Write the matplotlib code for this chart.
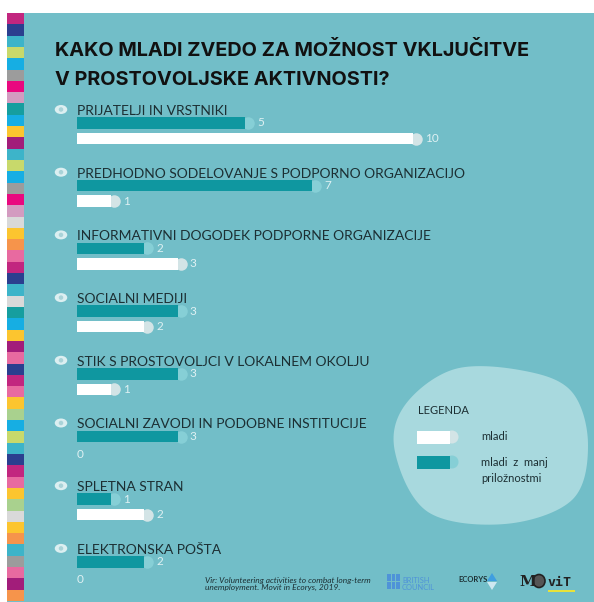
import numpy as np
import matplotlib.pyplot as plt
from matplotlib.patches import Rectangle, Ellipse, Polygon

# data
categories = ["PRIJATELJI IN VRSTNIKI",
              "PREDHODNO SODELOVANJE S PODPORNO ORGANIZACIJO",
              "INFORMATIVNI DOGODEK PODPORNE ORGANIZACIJE",
              "SOCIALNI MEDIJI",
              "STIK S PROSTOVOLJCI V LOKALNEM OKOLJU",
              "SOCIALNI ZAVODI IN PODOBNE INSTITUCIJE",
              "SPLETNA STRAN",
              "ELEKTRONSKA POŠTA"]
manj = [5, 7, 2, 3, 3, 3, 1, 2]       # mladi z manj priložnostmi
mladi = [10, 1, 3, 2, 1, 0, 2, 0]     # mladi

title1 = "KAKO MLADI ZVEDO ZA MOŽNOST VKLJUČITVE"
title2 = "V PROSTOVOLJSKE AKTIVNOSTI?"
source = "Vir: Volunteering activities to combat long-term\nunemployment. Movit in Ecorys, 2019."

strip_colors = ["#c2267f", "#2b3f8f", "#3db4c9", "#c8d96b", "#16aee3", "#9c9c9c", "#e9087f", "#d39bc0",
                "#169e9f", "#16aee3", "#fcc52f", "#a21d7a", "#3db4c9", "#c8d96b", "#16aee3", "#9c9c9c",
                "#e9087f", "#d39bc0", "#d9d9d9", "#fcc52f", "#f6944b", "#e86aa0", "#c2267f", "#2b3f8f",
                "#3db4c9", "#d9d9d9", "#169e9f", "#16aee3", "#fcc52f", "#a21d7a", "#e86aa0", "#2b3f8f",
                "#c2267f", "#e86aa0", "#fcc52f", "#a9d18e", "#16aee3", "#c8d96b", "#3db4c9", "#2b3f8f",
                "#c2267f", "#e86aa0", "#fcc52f", "#a9d18e", "#d9d9d9", "#fcc52f", "#f6944b", "#3db4c9",
                "#9c9c9c", "#e86aa0", "#a21d7a", "#f6944b"]

BG = "#72bec8"
TEAL = "#0f97a0"
TEAL_CAP = "#86cfd6"
WHITE_CAP = "#d3e4e6"
BLOB = "#a8d9de"
DARK = "#1c2f33"
VAL = "#dff1f3"

W, H = 594, 602
fig = plt.figure(figsize=(W / 100, H / 100), dpi=100)
fig.patch.set_facecolor("white")

bg = fig.add_axes([0, 0, 1, 1])
bg.set_xlim(0, W)
bg.set_ylim(H, 0)
bg.axis("off")

# panel + colour strip
bg.add_patch(Rectangle((7, 13), W - 7, H - 13, color=BG, lw=0))
bh = (601 - 13) / len(strip_colors)
bg.barh([13 + bh * (i + 0.5) for i in range(len(strip_colors))], 17, left=7,
        height=bh, color=strip_colors, lw=0)

# title
bg.text(55, 56, title1, fontsize=14.3, fontweight="bold", family="Inter", color="#111111")
bg.text(55, 85, title2, fontsize=14.3, fontweight="bold", family="Inter", color="#111111")

# legend blob
pts = np.array([(395, 452), (405, 405), (455, 369), (525, 371), (572, 392), (588, 445),
                (572, 500), (505, 524), (428, 512)], float)
n = len(pts)
curve = []
for i in range(n):
    p0, p1, p2, p3 = pts[i - 1], pts[i], pts[(i + 1) % n], pts[(i + 2) % n]
    for t in np.linspace(0, 1, 20, endpoint=False):
        curve.append(0.5 * ((2 * p1) + (-p0 + p2) * t + (2 * p0 - 5 * p1 + 4 * p2 - p3) * t ** 2
                            + (-p0 + 3 * p1 - 3 * p2 + p3) * t ** 3))
bg.add_patch(Polygon(curve, closed=True, color=BLOB, lw=0))

bg.text(418, 414, "LEGENDA", fontsize=8, family="Lato", color=DARK)
bg.add_patch(Ellipse((452, 437), 13, 13, color=WHITE_CAP, lw=0))
bg.add_patch(Rectangle((417, 431), 33, 12.5, color="white", lw=0))
bg.add_patch(Ellipse((452, 462), 13, 13, color=TEAL_CAP, lw=0))
bg.add_patch(Rectangle((417, 456), 33, 12.5, color=TEAL, lw=0))
bg.text(481, 437, "mladi", fontsize=8, family="Lato", color=DARK, va="center")
bg.text(481, 462, "mladi  z  manj", fontsize=8, family="Lato", color=DARK, va="center")
bg.text(481, 478, "priložnostmi", fontsize=8, family="Lato", color=DARK, va="center")

# footer
bg.text(205, 584, source, fontsize=6, style="italic", family="Lato", color=DARK,
        va="center", linespacing=1.0)
for r in range(2):
    for c in range(3):
        bg.add_patch(Rectangle((387 + c * 4.5, 574 + r * 8), 3.6, 6.5, color="#4f93d8", lw=0))
bg.text(402, 584, "BRITISH\nCOUNCIL", fontsize=5.4, family="Lato", color="#4f93d8",
        va="center", linespacing=0.95)
bg.text(458, 580, "ECORYS", fontsize=5.5, fontweight="bold", family="Lato", color=DARK, va="center")
bg.add_patch(Polygon([(487, 581), (497, 581), (492, 573)], color="#3f9ee0", lw=0))
bg.add_patch(Polygon([(487, 582), (497, 582), (492, 590)], color="#cfe8f0", lw=0))
bg.text(519, 582, "M", fontsize=11, fontweight="bold", family="DejaVu Serif", color="#222222", va="center")
bg.add_patch(Ellipse((539, 581), 12, 13, facecolor="#555555", edgecolor="#222222", lw=1.2))
bg.text(547, 582, "viT", fontsize=9.5, fontweight="bold", family="DejaVu Sans Mono", color="#222222", va="center")
bg.add_patch(Rectangle((548, 590), 27, 2, color="#e8e23a", lw=0))

# bars axis: x in values, y in pixels
X0, UNIT = 77, 33.6
ax = fig.add_axes([0, 0, 1, 1])
ax.set_xlim(-X0 / UNIT, (W - X0) / UNIT)
ax.set_ylim(H, 0)
ax.axis("off")
ax.patch.set_alpha(0)

tops = [105 + 62.7 * i for i in range(len(categories))]
y_manj = [t + 18 for t in tops]
y_mladi = [t + 33.5 for t in tops]
barh_h = 11.5
cap_s = (12.5 * 0.72) ** 2

for i, lab in enumerate(categories):
    bg.add_patch(Ellipse((61, tops[i] + 4.5), 12.5, 9, color="#dcefF1", lw=0))
    bg.add_patch(Ellipse((61, tops[i] + 4.5), 4.5, 4.5, color="#a9d3d8", lw=0))
    bg.text(X0, tops[i] + 10, lab, fontsize=10, family="Lato", color=DARK)

for vals, ys, col, capc in [(manj, y_manj, TEAL, TEAL_CAP), (mladi, y_mladi, "white", WHITE_CAP)]:
    ax.barh(ys, vals, height=barh_h, color=col, lw=0, zorder=3)
    for v, y in zip(vals, ys):
        if v > 0:
            ax.scatter([v + 3 / UNIT], [y], s=cap_s, color=capc, lw=0, zorder=2)
            ax.text(v + 12 / UNIT, y, str(v), fontsize=8.5, family="Lato", color=VAL, va="center")
        else:
            ax.text(v, y + 2, str(v), fontsize=8.5, family="Lato", color=VAL, va="center")

fig.savefig("out.png", dpi=100, facecolor=fig.get_facecolor())
